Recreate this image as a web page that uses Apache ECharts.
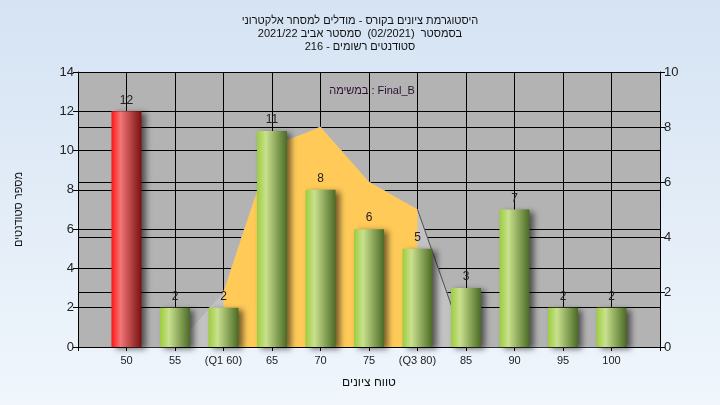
<!DOCTYPE html>
<html><head><meta charset="utf-8">
<script src="https://cdn.jsdelivr.net/npm/echarts@6/dist/echarts.min.js"></script>
<style>html,body{margin:0;padding:0;}#c{width:720px;height:405px;background:linear-gradient(#d5e3f3,#f0f6fc);}</style>
</head><body><div id="c"></div>
<script>
var categories = ['', '50', '55', '(Q1 60)', '65', '70', '75', '(Q3 80)', '85', '90', '95', '100', ''];
var counts = [null, 12, 2, 2, 11, 8, 6, 5, 3, 7, 2, 2, null];
var curveValues = [null, 0, 0, 2, 7.3, 8, 6, 5, 0, 0, 0, 0, null];
var quartileValues = [null, null, null, 2, 7.3, 8, 6, 5, null, null, null, null, null];
var tailValues = [null, null, null, null, null, null, null, 5, 0, null, null, null, null];
var leftTicks = [0, 2, 4, 6, 8, 10, 12, 14];
var rightTicks = [0, 2, 4, 6, 8, 10];
var titleLines = ['היסטוגרמת ציונים בקורס - מודלים למסחר אלקטרוני', 'בסמסטר  (02/2021)  סמסטר אביב 2021/22', 'סטודנטים רשומים - 216'];
var legendText = 'במשימה : Final_B';

var font = 'Liberation Sans, Arial, sans-serif';
var green = {type:'linear',x:0,y:0,x2:1,y2:0,colorStops:[{offset:0,color:'#9ccd3e'},{offset:0.3,color:'#c9e18e'},{offset:1,color:'#4b6a25'}]};
var red = {type:'linear',x:0,y:0,x2:1,y2:0,colorStops:[{offset:0,color:'#ff1414'},{offset:0.3,color:'#f27676'},{offset:1,color:'#7a1010'}]};
var barData = counts.map(function(v, i){
  if (v === null) return null;
  return {value: v, itemStyle: {color: i === 1 ? red : green}};
});
var chart = echarts.init(document.getElementById('c'), null, {renderer:'canvas'});
chart.setOption({
  animation: false,
  backgroundColor: 'transparent',
  title: [
    {text: titleLines.join('\n'), left: 'center', top: 9, textStyle: {fontFamily: font, fontSize: 11, fontWeight: 'normal', color: '#111', lineHeight: 13}},
    {text: legendText, left: 367, top: 80, textAlign: 'center', textStyle: {fontFamily: font, fontSize: 11, fontWeight: 'normal', color: '#2a1030'}}
  ],
  grid: {left: 78, right: 60, top: 72, bottom: 58, show: true, backgroundColor: '#b3b3b3', borderWidth: 0},
  xAxis: {
    type: 'category', data: categories, boundaryGap: false,
    name: 'טווח ציונים', nameLocation: 'middle', nameGap: 30,
    nameTextStyle: {fontFamily: font, fontSize: 12, color: '#111'},
    axisLine: {lineStyle: {color: '#000'}},
    axisTick: {interval: 0, length: 4, lineStyle: {color: '#000'}},
    axisLabel: {interval: 0, fontFamily: font, fontSize: 11, color: '#222', margin: 8},
    splitLine: {show: true, interval: 0, lineStyle: {color: '#000', width: 1}}
  },
  yAxis: [
    {type: 'value', min: 0, max: 14, interval: 2,
     name: 'מספר סטודנטים', nameLocation: 'middle', nameGap: 54,
     nameTextStyle: {fontFamily: font, fontSize: 11, color: '#111'},
     axisLine: {show: true, lineStyle: {color: '#000'}},
     axisTick: {show: true, length: 5, lineStyle: {color: '#000'}},
     axisLabel: {fontFamily: font, fontSize: 13, color: '#222', margin: 4, formatter: function(v){return leftTicks.indexOf(v) >= 0 ? String(v) : '';}},
     splitLine: {show: true, lineStyle: {color: '#000', width: 1}}},
    {type: 'value', min: 0, max: 10, interval: 2, position: 'right',
     axisLine: {show: true, lineStyle: {color: '#000'}},
     axisTick: {show: true, length: 5, lineStyle: {color: '#000'}},
     axisLabel: {fontFamily: font, fontSize: 13, color: '#222', margin: 4, formatter: function(v){return rightTicks.indexOf(v) >= 0 ? String(v) : '';}},
     splitLine: {show: true, lineStyle: {color: '#000', width: 1}}}
  ],
  series: [
    {type: 'line', yAxisIndex: 1, data: curveValues, symbol: 'none', z: 1,
     lineStyle: {width: 1, color: '#b8b8b8'}, areaStyle: {color: '#c2c2c2', opacity: 1}},
    {type: 'line', yAxisIndex: 1, data: quartileValues, symbol: 'none', z: 2,
     lineStyle: {width: 0}, areaStyle: {color: '#ffca58', opacity: 1}},
    {type: 'line', yAxisIndex: 1, data: tailValues, symbol: 'none', z: 2,
     lineStyle: {width: 1, color: '#505050'}},
    {type: 'bar', yAxisIndex: 0, data: barData, barWidth: 30, z: 3,
     itemStyle: {shadowColor: 'rgba(0,0,0,0.55)', shadowBlur: 6, shadowOffsetX: 4, shadowOffsetY: 2},
     label: {show: true, position: 'top', distance: 5, fontFamily: font, fontSize: 12, color: '#222'}}
  ]
});
</script></body></html>
